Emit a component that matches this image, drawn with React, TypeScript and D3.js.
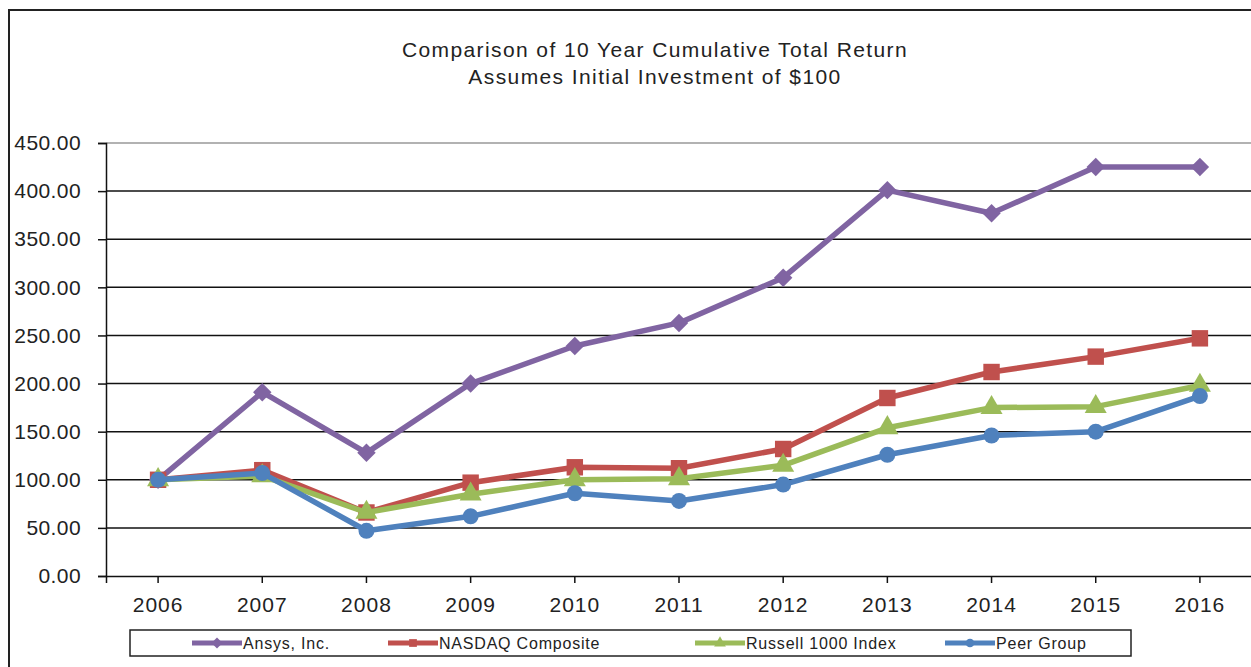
import { useEffect, useRef } from 'react';
import * as d3 from 'd3';

const years = ['2006', '2007', '2008', '2009', '2010', '2011', '2012', '2013', '2014', '2015', '2016'];
const ansys = [100, 191, 128, 200, 239, 263, 310, 401, 377, 425, 425];
const nasdaq = [100, 110, 66, 97, 113, 112, 132, 185, 212, 228, 247];
const russell = [100, 104, 66, 85, 100, 101, 115, 154, 175, 176, 198];
const peer = [100, 107, 47, 62, 86, 78, 95, 126, 146, 150, 187];
const yTicks = [0, 50, 100, 150, 200, 250, 300, 350, 400, 450];

const series = [
  { name: 'Ansys, Inc.', values: ansys, color: '#8064A2', symbol: d3.symbolSquare, size: 170, rotate: 45 },
  { name: 'NASDAQ Composite', values: nasdaq, color: '#C0504D', symbol: d3.symbolSquare, size: 270, rotate: 0 },
  { name: 'Russell 1000 Index', values: russell, color: '#9BBB59', symbol: d3.symbolTriangle, size: 210, rotate: 0 },
  { name: 'Peer Group', values: peer, color: '#4F81BD', symbol: d3.symbolCircle, size: 200, rotate: 0 },
];

export default function App() {
  const ref = useRef<SVGSVGElement | null>(null);

  useEffect(() => {
    document.body.style.margin = '0';
    if (!ref.current) return;
    const svg = d3.select(ref.current);
    svg.selectAll('*').remove();

    const font = 'Liberation Sans, Arial, sans-serif';
    const left = 106;
    const right = 1252;
    const top = 143;
    const bottom = 576;

    svg.append('rect').attr('width', 1251).attr('height', 667).attr('fill', '#fff');
    svg.append('rect')
      .attr('x', 9).attr('y', 10).attr('width', 1270).attr('height', 700)
      .attr('fill', 'none').attr('stroke', '#222').attr('stroke-width', 2);

    const title = svg.append('text')
      .attr('text-anchor', 'middle')
      .style('font-family', font).style('font-size', '21px').style('letter-spacing', '1.4px')
      .attr('fill', '#222');
    title.append('tspan').attr('x', 655).attr('y', 57).text('Comparison of 10 Year Cumulative Total Return');
    title.append('tspan').attr('x', 655).attr('y', 84).text('Assumes Initial Investment of $100');

    const x = d3.scaleBand().domain(years).range([left, right]);
    const y = d3.scaleLinear().domain([0, 450]).range([bottom, top]);
    const cx = (yr: string) => (x(yr) || 0) + x.bandwidth() / 2;

    // gridlines
    svg.append('g').selectAll('line').data(yTicks.filter((t) => t > 0)).join('line')
      .attr('x1', left).attr('x2', right)
      .attr('y1', (d) => y(d)).attr('y2', (d) => y(d))
      .attr('stroke', (d) => (d === 450 ? '#999' : '#111')).attr('stroke-width', 1.5);

    const yAxis = d3.axisLeft(y).tickValues(yTicks).tickFormat((d) => Number(d).toFixed(2)).tickSize(8).tickPadding(17);
    const gy = svg.append('g').attr('transform', `translate(${left},0)`).call(yAxis);
    gy.select('.domain').attr('stroke', '#111').attr('stroke-width', 1.5);
    gy.selectAll('.tick line').attr('stroke', '#111').attr('stroke-width', 1.5);
    gy.selectAll('text').style('font-family', font).style('font-size', '21px').style('letter-spacing', '0.4px').attr('fill', '#222');

    const xAxis = d3.axisBottom(x).tickSize(7).tickPadding(14);
    const gx = svg.append('g').attr('transform', `translate(0,${bottom})`).call(xAxis);
    gx.select('.domain').attr('stroke', '#111').attr('stroke-width', 1.5);
    gx.selectAll('.tick line').attr('stroke', '#111').attr('stroke-width', 1.5);
    gx.selectAll('text').style('font-family', font).style('font-size', '21px').style('letter-spacing', '1px').attr('fill', '#222');

    const line = d3.line<number>().x((_, i) => cx(years[i])).y((d) => y(d));

    series.forEach((s) => {
      svg.append('path').datum(s.values).attr('d', line)
        .attr('fill', 'none').attr('stroke', s.color).attr('stroke-width', 5.5).attr('stroke-linejoin', 'round');
      svg.append('g').selectAll('path').data(s.values).join('path')
        .attr('d', d3.symbol().type(s.symbol).size(s.size)())
        .attr('transform', (d, i) => `translate(${cx(years[i])},${y(d)}) rotate(${s.rotate})`)
        .attr('fill', s.color);
    });

    // legend
    svg.append('rect').attr('x', 130).attr('y', 630).attr('width', 1001).attr('height', 26)
      .attr('fill', '#fff').attr('stroke', '#222').attr('stroke-width', 1.5);
    const legendX = [192, 388, 695, 945];
    series.forEach((s, i) => {
      const g = svg.append('g').attr('transform', `translate(${legendX[i]},643)`);
      g.append('line').attr('x1', 0).attr('x2', 50).attr('stroke', s.color).attr('stroke-width', 5);
      g.append('path').attr('d', d3.symbol().type(s.symbol).size(60)())
        .attr('transform', `translate(25,0) rotate(${s.rotate})`).attr('fill', s.color);
      g.append('text').attr('x', 51).attr('y', 6)
        .style('font-family', font).style('font-size', '16px').style('letter-spacing', '0.8px')
        .attr('fill', '#222').text(s.name);
    });
  }, []);

  return <svg ref={ref} width={1251} height={667} style={{ display: 'block' }} />;
}
